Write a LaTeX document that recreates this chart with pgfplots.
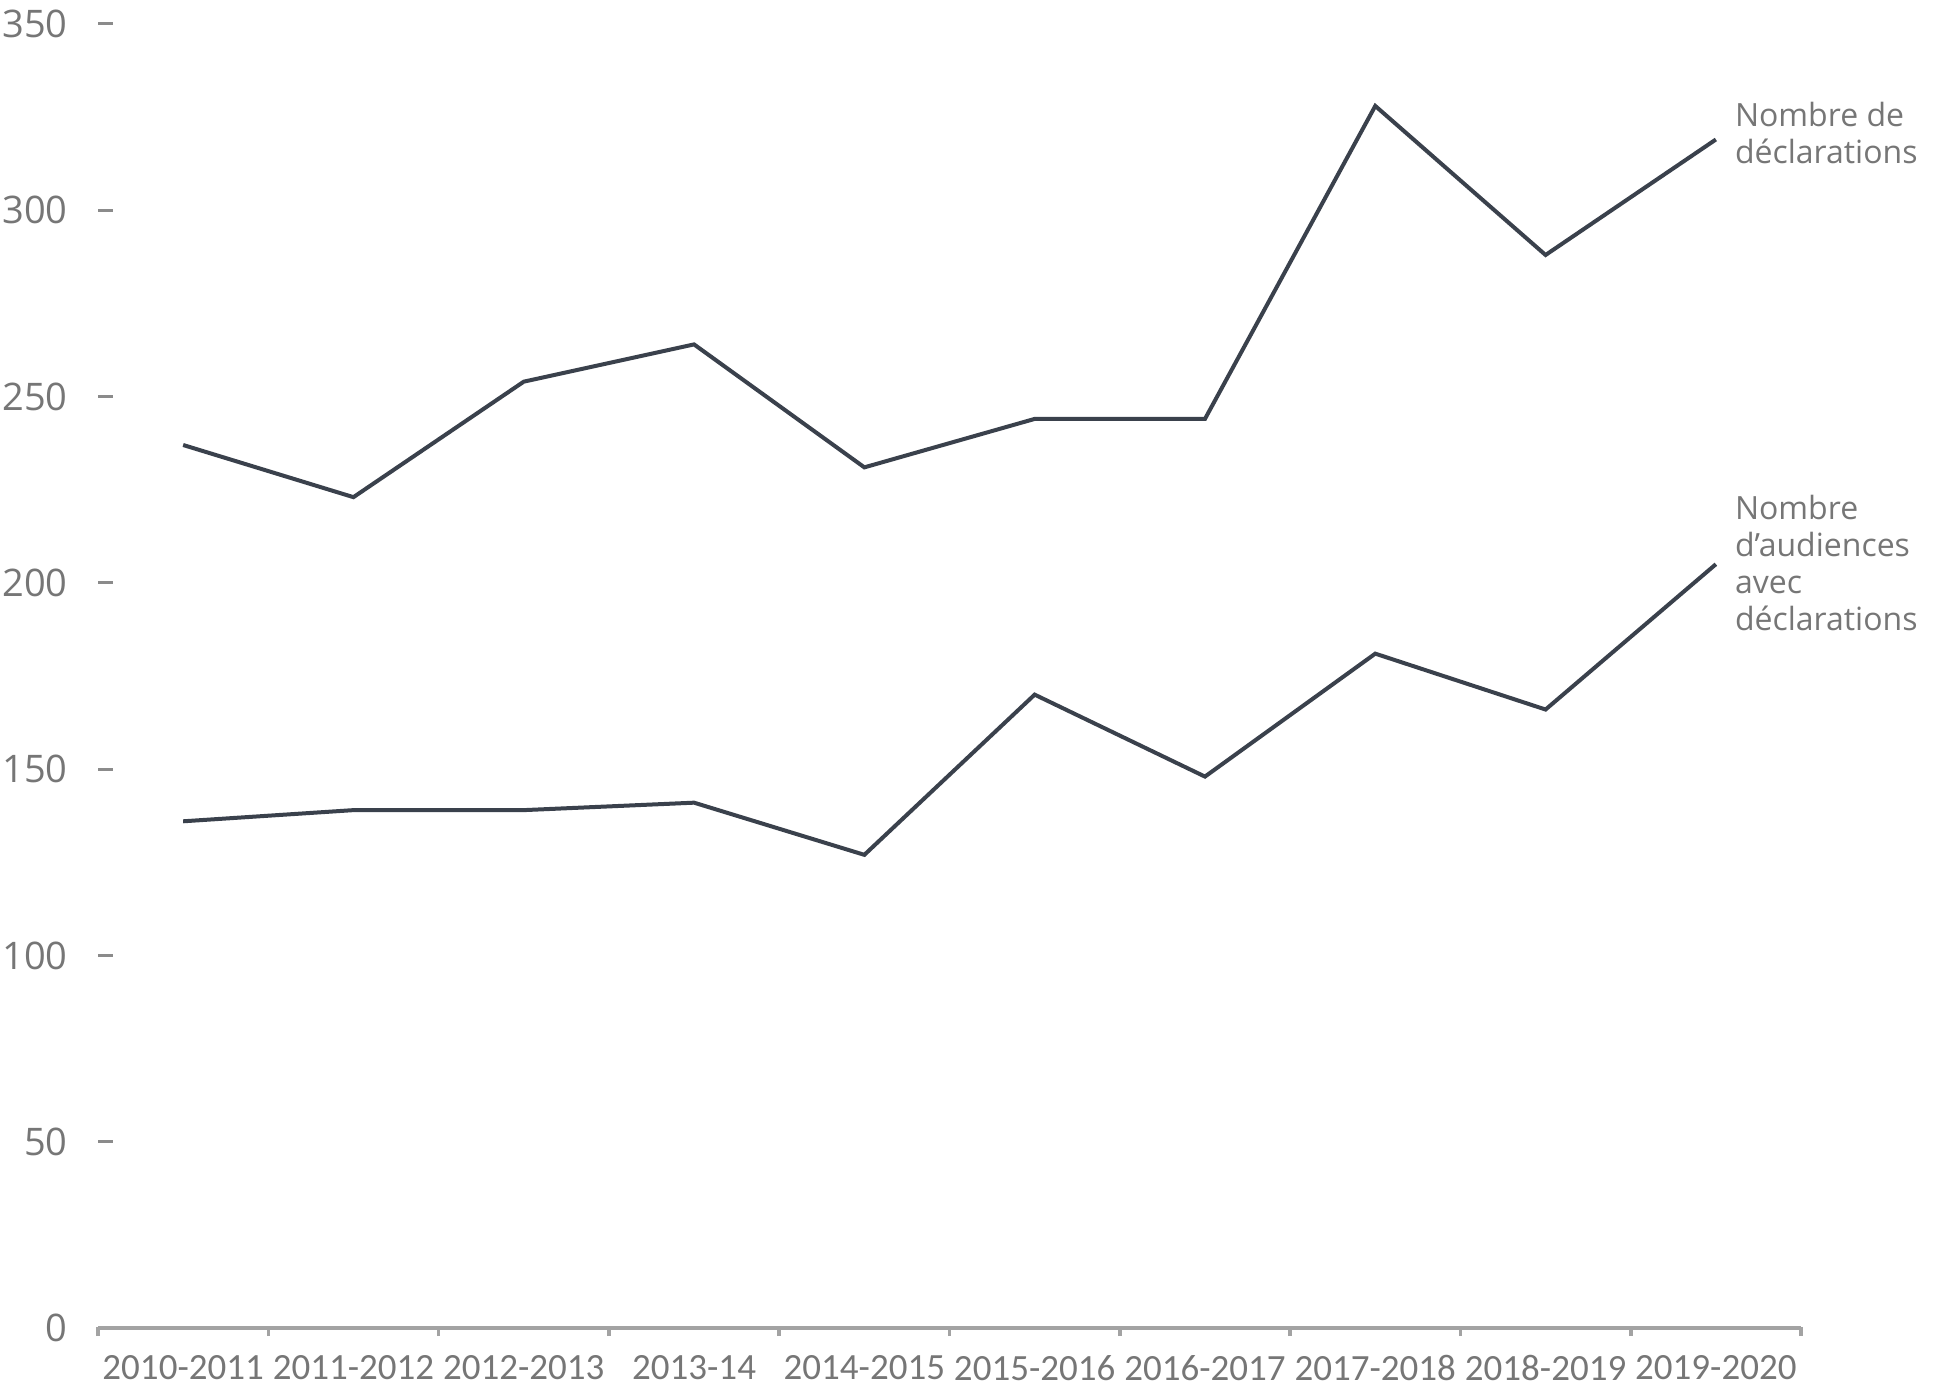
\documentclass[border=0pt]{standalone}
\usepackage{pgfplots}
\pgfplotsset{compat=1.18}
\usepackage{fontspec}
\setmainfont{Open Sans}
\newfontfamily\carlito{Carlito}
\definecolor{serie}{HTML}{3A414C}
\definecolor{axe}{HTML}{A3A3A3}
\definecolor{texte}{HTML}{767676}
\begin{document}
\begin{tikzpicture}
    \begin{axis}[
        at={(0,0)},anchor=south west,
        scale only axis,width=851.5pt,height=652pt,
        xmin=-0.5,xmax=9.5,ymin=0,ymax=350,
        axis x line*=bottom,axis y line*=left,
        y axis line style={draw=none},
        x axis line style={draw=axe,line width=1.8pt},
        tick align=inside,
        xtick={0,...,9},major x tick style={draw=none},
        xticklabels={2010-2011,2011-2012,2012-2013,2013-14,2014-2015,2015-2016,2016-2017,2017-2018,2018-2019,2019-2020},
        xticklabel style={font=\carlito\fontsize{18.5}{20}\selectfont,text=texte,anchor=north,inner sep=0pt,yshift=-13.5pt},
        minor xtick={-0.5,0.5,...,9.5},
        minor x tick style={draw=axe,line width=1.8pt,yshift=-4pt},
        minor tick length=4.5pt,
        ytick={0,50,...,350},
        major y tick style={draw=texte!85,line width=1.5pt},
        major tick length=7.5pt,
        yticklabel style={font=\fontsize{19}{21}\selectfont,text=texte,anchor=east,inner sep=0pt,xshift=-15pt},
        /pgf/number format/assume math mode=true,
        clip=false,
    ]
        \addplot[serie,line width=2pt] coordinates {
            (0,237) (1,223) (2,254) (3,264) (4,231)
            (5,244) (6,244) (7,328) (8,288) (9,319)
        };
        \addplot[serie,line width=2pt] coordinates {
            (0,136) (1,139) (2,139) (3,141) (4,127)
            (5,170) (6,148) (7,181) (8,166) (9,205)
        };
        \node[anchor=west,align=left,inner sep=0pt,text=texte,font=\fontsize{16}{18.5}\selectfont]
            at (axis cs:9.11,320.7) {Nombre de\\déclarations};
        \node[anchor=west,align=left,inner sep=0pt,text=texte,font=\fontsize{16}{18.5}\selectfont]
            at (axis cs:9.11,205.2) {Nombre\\d’audiences\\avec\\déclarations};
    \end{axis}
    \pgfresetboundingbox
    \path[use as bounding box] (-49pt,-32.5pt) rectangle (924pt,664pt);
\end{tikzpicture}
\end{document}
